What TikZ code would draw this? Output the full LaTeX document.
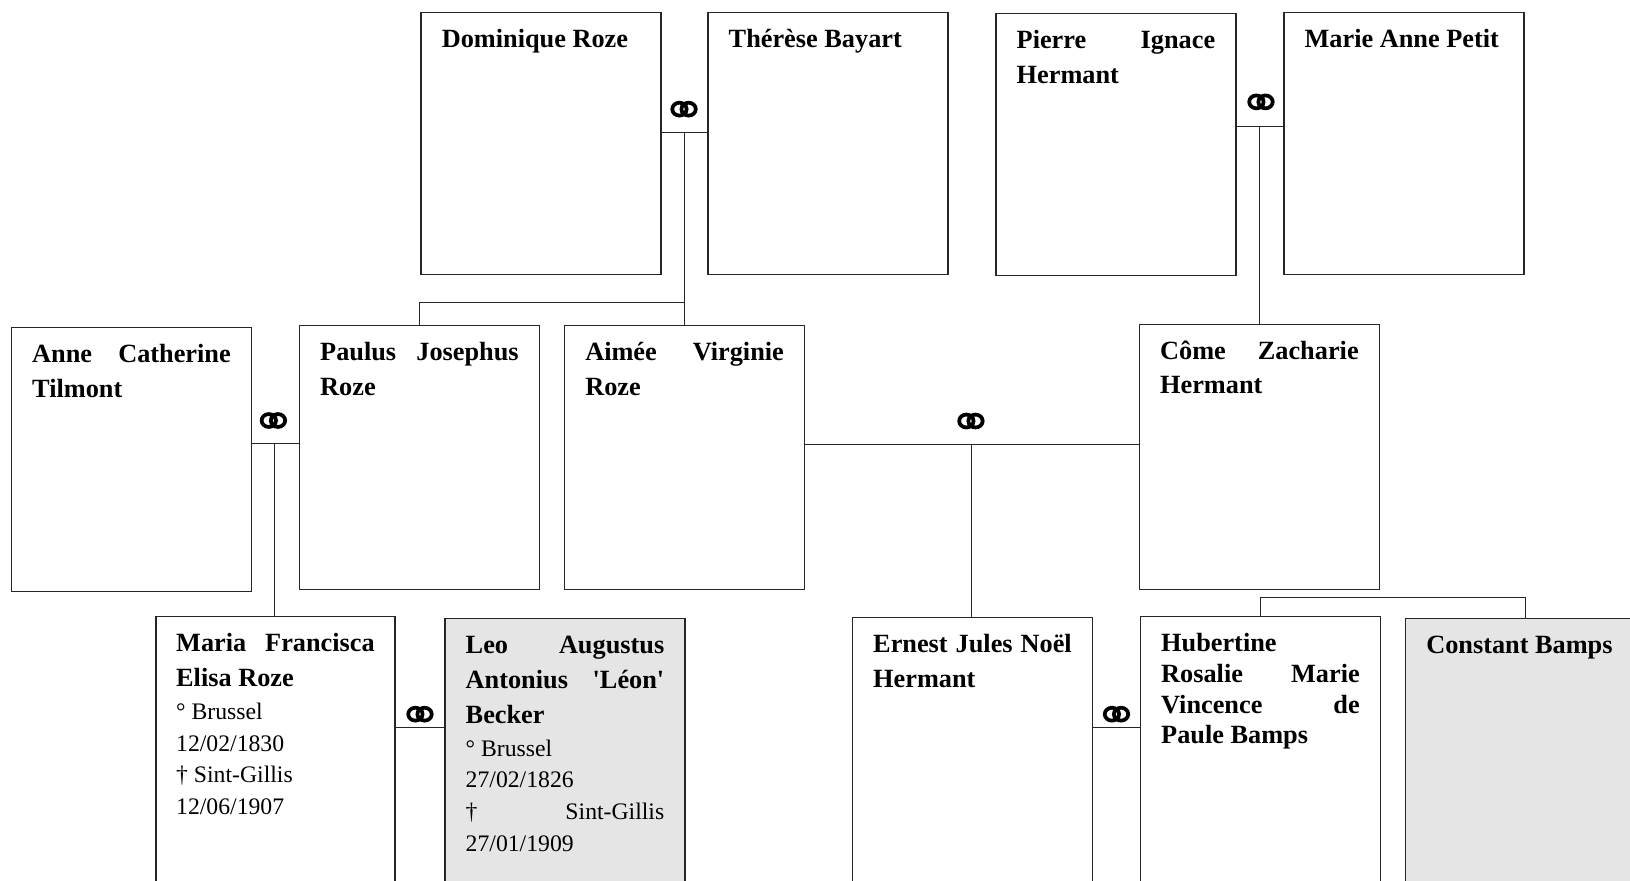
\documentclass[tikz,border=0pt]{standalone}
\usepackage{fontspec}
\setmainfont{Liberation Serif}[Ligatures=TeXOff]

\newcommand\namefont{\fontsize{12.65pt}{16.75pt}\selectfont\bfseries}
\newcommand\datefont{\fontsize{11.4pt}{15.25pt}\selectfont\mdseries}
% card content: fixed-height vbox, lines placed on set baselines
\newcommand\cardbox[2]{\vbox to #1{\hsize=95.5pt\parindent=0pt\lineskiplimit=-100pt\baselineskip=16.75pt\relax\hbox{}#2\vfil}}
\newcommand\NmJ[1]{\hbox to\hsize{\namefont #1}}
\newcommand\NmL[1]{\hbox to\hsize{\namefont #1\hfil}}
\newcommand\DtL[1]{\hbox to\hsize{\datefont #1\hfil}}
\newcommand\DtJ[1]{\hbox to\hsize{\datefont #1}}
\newcommand\DtF[1]{\baselineskip=16pt\relax\DtL{#1}\baselineskip=15.25pt\relax}

\tikzset{
  person/.style={draw=black!85, line width=0.7pt, anchor=north west,
    inner xsep=10pt, inner ysep=0pt, outer sep=0pt},
  grayperson/.style={person, fill=black!10},
  conn/.style={draw=black!85, line width=0.5pt},
  rings/.pic={\draw[line width=1.8pt]
    (-4.4,0) ellipse [x radius=6.9, y radius=6.2]
    (4.4,0) ellipse [x radius=6.9, y radius=6.2];}
}

\begin{document}
\begin{tikzpicture}[x=0.5pt, y=-0.5pt]
\useasboundingbox (0,0) rectangle (1568,847);
\fill[white] (0,0) rectangle (1568,847);
\clip (0,0) rectangle (1568,847);

% generation 1
\node[person] (dom) at (405,12) {\cardbox{126pt}{\NmL{Dominique Roze}}};
\node[person] (the) at (681,12) {\cardbox{126pt}{\NmL{Thérèse Bayart}}};
\node[person] (pie) at (958,13) {\cardbox{126pt}{\NmJ{Pierre\hfill Ignace}\NmL{Hermant}}};
\node[person] (mar) at (1235,12) {\cardbox{126pt}{\NmL{Marie Anne Petit}}};

% generation 2
\node[person] (ann) at (11,315) {\cardbox{127pt}{\NmJ{Anne\hfill Catherine}\NmL{Tilmont}}};
\node[person] (pau) at (288,313) {\cardbox{127pt}{\NmJ{Paulus\hfill Josephus}\NmL{Roze}}};
\node[person] (aim) at (543,313) {\cardbox{127pt}{\NmJ{Aimée\hfill Virginie}\NmL{Roze}}};
\node[person] (com) at (1096,312) {\cardbox{127.5pt}{\NmJ{Côme\hfill Zacharie}\NmL{Hermant}}};

% generation 3
\node[person, inner xsep=9.75pt] (mf) at (150,593) {\cardbox{132pt}{\NmJ{Maria\hfill Francisca}\NmL{Elisa Roze}%
  \DtF{° Brussel}\DtL{12/02/1830}\DtL{† Sint-Gillis}\DtL{12/06/1907}}};
\node[grayperson] (leo) at (428,595) {\cardbox{132pt}{\NmJ{Leo\hfill Augustus}\NmJ{Antonius\hfill 'Léon'}\NmL{Becker}%
  \DtF{° Brussel}\DtL{27/02/1826}\DtJ{†\hfill Sint-Gillis}\DtL{27/01/1909}}};
\node[person] (ern) at (820,594) {\cardbox{132pt}{\NmJ{Ernest\hfill Jules\hfill Noël}\NmL{Hermant}}};
\node[person] (hub) at (1097,593) {\cardbox{132pt}{\NmL{Hubertine}\baselineskip=14.85pt\relax
  \NmJ{Rosalie\hfill Marie}\NmJ{Vincence\hfill de}\NmL{Paule Bamps}}};
\node[grayperson, minimum width=113pt] (con) at (1352,595) {\cardbox{132pt}{\NmL{Constant Bamps}}};

% marriages and descent
\coordinate (m1) at (658,127.5);
\draw[conn] (dom.east |- m1) -- (the.west |- m1);
\draw[conn] (m1) -- (m1 |- aim.north);
\coordinate (j1) at (658,291);
\draw[conn] (j1) -| (pau.north);
\pic at (658,105) {rings};

\coordinate (m2) at (1212,122);
\draw[conn] (pie.east |- m2) -- (mar.west |- m2);
\draw[conn] (m2) -- (m2 |- com.north);
\pic at (1213,98) {rings};

\coordinate (m3) at (264,426.5);
\draw[conn] (ann.east |- m3) -- (pau.west |- m3);
\draw[conn] (m3) -- (m3 |- mf.north);
\pic at (263,404.5) {rings};

\coordinate (m4) at (934.5,428);
\draw[conn] (aim.east |- m4) -- (com.west |- m4);
\draw[conn] (m4) -- (m4 |- ern.north);
\pic at (934,405) {rings};

\coordinate (m5) at (404,700);
\draw[conn] (mf.east |- m5) -- (leo.west |- m5);
\pic at (404,687) {rings};

\coordinate (m6) at (1074,700);
\draw[conn] (ern.east |- m6) -- (hub.west |- m6);
\pic at (1074,687) {rings};

% siblings
\coordinate (s1) at (1212,574.5);
\draw[conn] (hub.north) -- (hub.north |- s1) -| (con.north);
\end{tikzpicture}
\end{document}
